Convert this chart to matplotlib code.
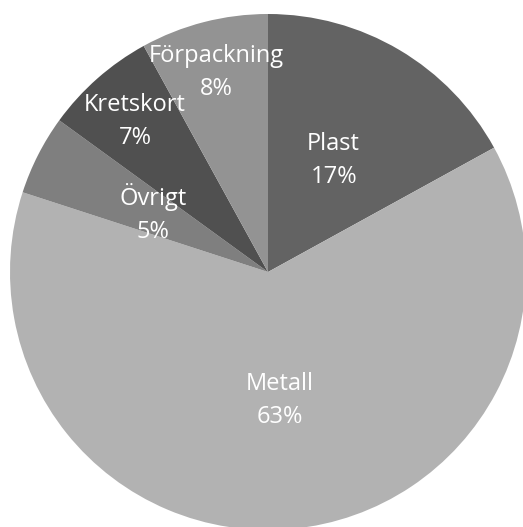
import numpy as np
import matplotlib.pyplot as plt

# data
names = ['Plast', 'Metall', 'Övrigt', 'Kretskort', 'Förpackning']
values = [17, 63, 5, 7, 8]
colors = ['#636363', '#b2b2b2', '#7f7f7f', '#505050', '#939393']
# how far out each label sits (fraction of radius)
label_dist = [0.5, 0.5, 0.5, 0.78, 0.8]

W, H = 523, 527
cx, cy, r = 268, 272, 258

fig = plt.figure(figsize=(W / 100, H / 100), dpi=100)
ax = fig.add_axes([(cx - r) / W, (H - cy - r) / H, 2 * r / W, 2 * r / H])

wedges, _ = ax.pie(values, colors=colors, startangle=90, counterclock=False)

for w, n, v, d in zip(wedges, names, values, label_dist):
    ang = np.deg2rad((w.theta1 + w.theta2) / 2)
    ax.text(d * np.cos(ang), d * np.sin(ang), f'{n}\n{v}%', color='white',
            fontsize=17, family='Open Sans', ha='center', va='center',
            linespacing=1.5)

ax.set_xlim(-1, 1)
ax.set_ylim(-1, 1)
ax.set_aspect('auto')
ax.axis('off')

fig.savefig('out.png', dpi=100)
